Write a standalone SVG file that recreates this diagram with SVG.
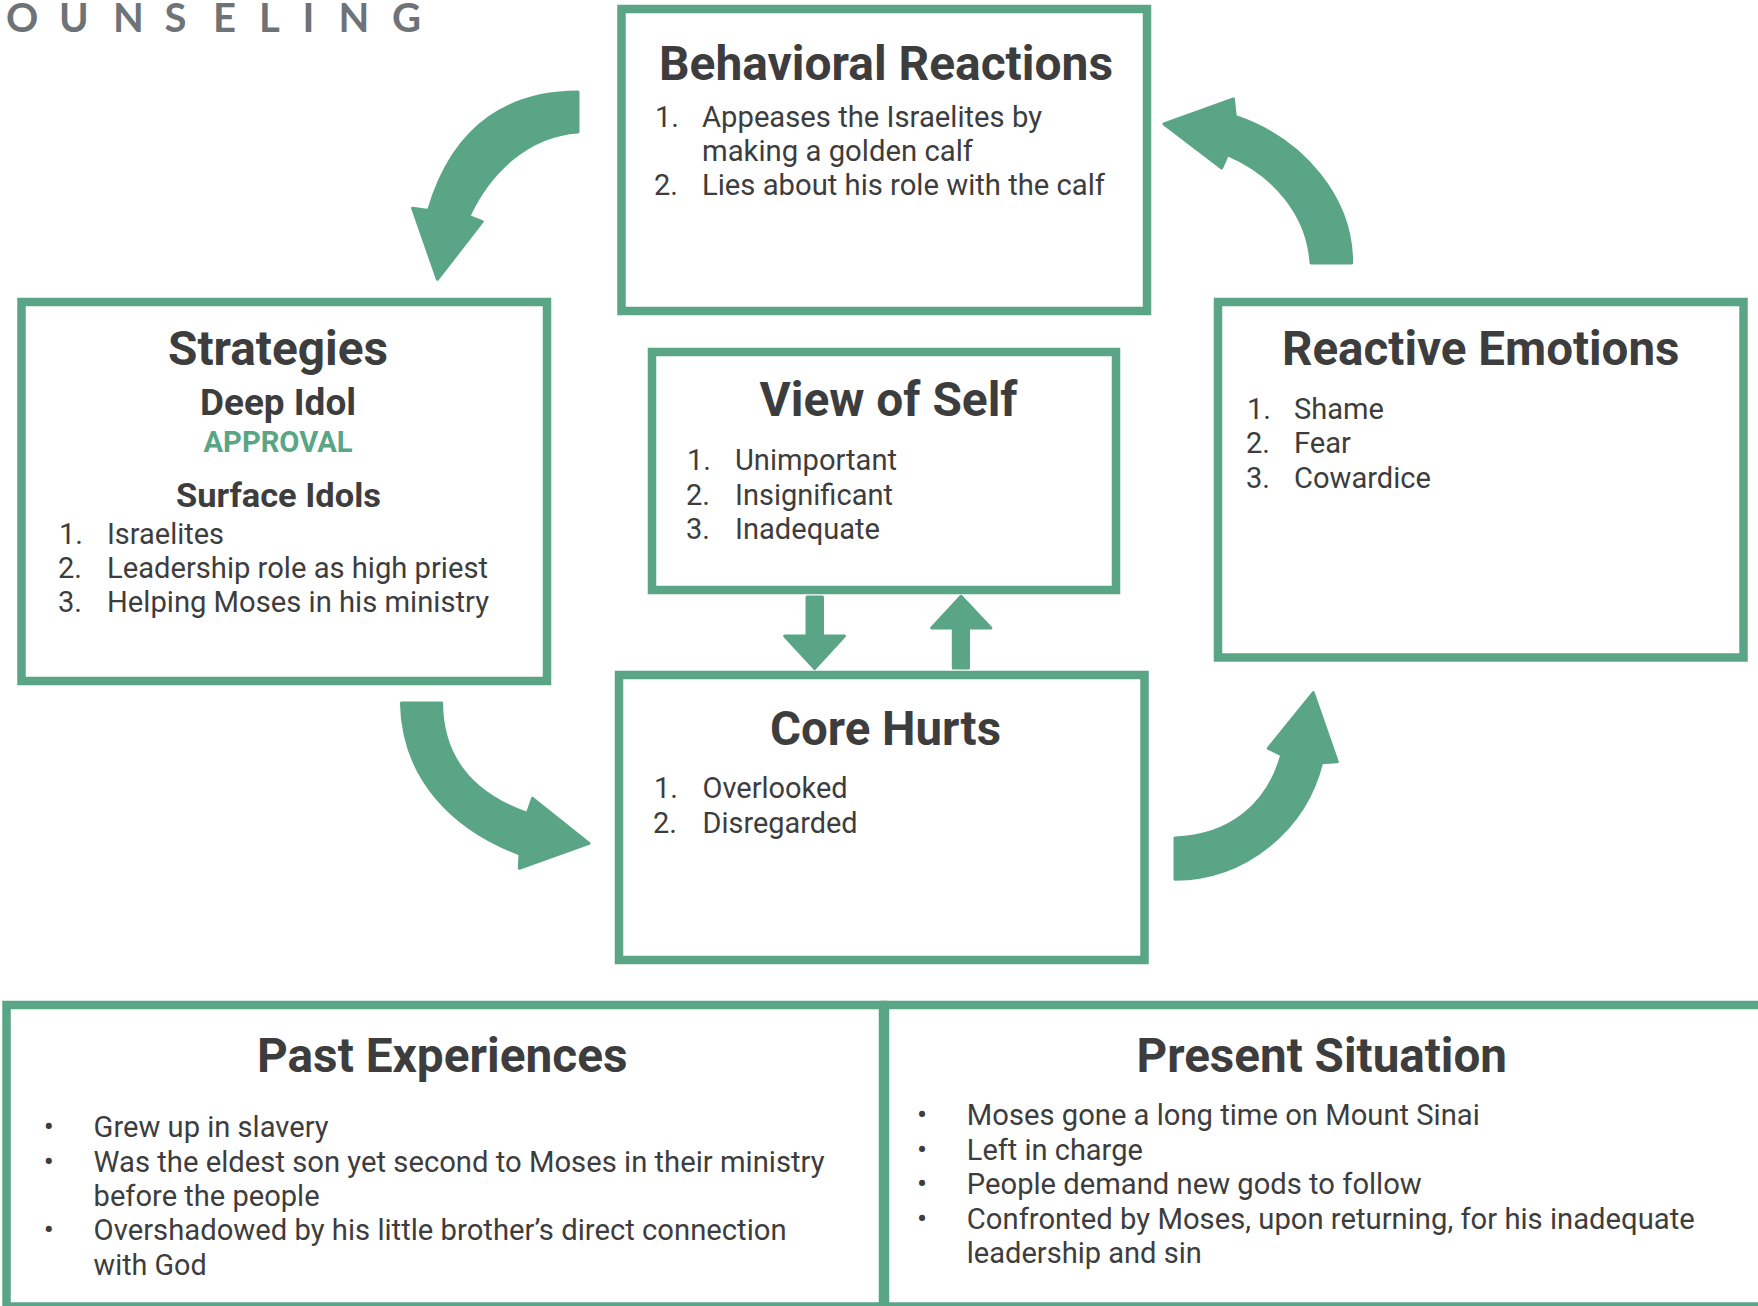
<svg xmlns="http://www.w3.org/2000/svg" width="1758" height="1306" viewBox="0 0 1758 1306">
  <style>
    .box { fill: #ffffff; stroke: #5aa586; stroke-width: 8.5; }
    .ttl { font-family: Roboto, "Liberation Sans", sans-serif; font-weight: 700; font-size: 48px; fill: #3d3d3d; }
    .sub { font-family: Roboto, "Liberation Sans", sans-serif; font-weight: 700; fill: #3d3d3d; }
    .txt { font-family: Roboto, "Liberation Sans", sans-serif; font-weight: 400; font-size: 29px; fill: #3d3d3d; }
    .bul { font-family: Roboto, "Liberation Sans", sans-serif; font-size: 30px; fill: #3d3d3d; text-anchor: middle; }
    .arrow { fill: #5aa586; stroke: #5aa586; stroke-width: 3; stroke-linejoin: round; }
    .head { font-family: Lato, "Open Sans", sans-serif; font-weight: 700; font-size: 40px; fill: #6e7377; }
  </style>
  <rect width="1758" height="1306" fill="#ffffff"/>

  <!-- page header, cut at the left edge -->
  <text class="head" x="6 59 113 164.5 213 259 302.5 338.5 392" y="31.5">OUNSELING</text>

  <!-- cycle and link arrows -->
  <g id="connectors">
    <!-- Behavioral Reactions -> Strategies -->
    <path class="arrow" d="M578,92 C515,92 455,120 428.6,210.5 L412.6,208.3 L437.4,279.3 L482.2,221.7 L468.8,216.5 C490,170 530,135 578,132 Z"/>
    <!-- Strategies -> Core Hurts -->
    <path class="arrow" d="M401.4,703 L441.6,703 C442,760 475,795 527.3,813.5 L532.6,798.3 L589,843.3 L519.3,868.3 L520,854 C455,830 403,780 401.4,703 Z"/>
    <!-- Core Hurts -> Reactive Emotions -->
    <path class="arrow" d="M1175,838 C1230,836 1268,805 1281.7,755 L1268.3,748.3 L1313.3,692.7 L1337.3,761.7 L1321.7,762.7 C1305,830 1245,879 1175,879.3 Z"/>
    <!-- Reactive Emotions -> Behavioral Reactions -->
    <path class="arrow" d="M1164,124 L1233.4,99 L1235.3,116.4 C1305,140 1352,200 1351.6,263 L1311,263 C1308,215 1275,175 1227.5,154.6 L1221.7,168 Z"/>
    <!-- View of Self -> Core Hurts -->
    <path class="arrow" d="M807,597 L822.5,597 L822.5,636 L844.5,636 L814.6,668.6 L784.6,636 L807,636 Z" stroke-width="0"/>
    <!-- Core Hurts -> View of Self -->
    <path class="arrow" d="M953.3,668 L968.5,668 L968.5,628 L990.9,628 L961,596.3 L931.6,628 L953.3,628 Z" stroke-width="0"/>
  </g>

  <g id="behavioral-reactions">
    <rect class="box" x="621.5" y="9" width="525.5" height="302"/>
    <text class="ttl" x="659" y="80" textLength="454" lengthAdjust="spacingAndGlyphs">Behavioral Reactions</text>
    <text class="txt" x="655" y="127">1.</text>
    <text class="txt" x="702" y="127" textLength="340" lengthAdjust="spacingAndGlyphs">Appeases the Israelites by</text>
    <text class="txt" x="702" y="161" textLength="271" lengthAdjust="spacingAndGlyphs">making a golden calf</text>
    <text class="txt" x="654" y="195">2.</text>
    <text class="txt" x="702" y="195" textLength="403" lengthAdjust="spacingAndGlyphs">Lies about his role with the calf</text>
  </g>

  <g id="strategies">
    <rect class="box" x="21.5" y="302" width="525.5" height="379"/>
    <text class="ttl" x="168" y="365" textLength="220" lengthAdjust="spacingAndGlyphs">Strategies</text>
    <text class="sub" x="200" y="415" font-size="37" textLength="156" lengthAdjust="spacingAndGlyphs">Deep Idol</text>
    <text class="sub" x="203.5" y="452" font-size="29" style="fill:#5aa586" textLength="149" lengthAdjust="spacingAndGlyphs">APPROVAL</text>
    <text class="sub" x="176" y="507" font-size="33" textLength="205" lengthAdjust="spacingAndGlyphs">Surface Idols</text>
    <text class="txt" x="59" y="544">1.</text>
    <text class="txt" x="107" y="544" textLength="117" lengthAdjust="spacingAndGlyphs">Israelites</text>
    <text class="txt" x="58" y="578">2.</text>
    <text class="txt" x="107" y="578" textLength="381" lengthAdjust="spacingAndGlyphs">Leadership role as high priest</text>
    <text class="txt" x="58" y="612">3.</text>
    <text class="txt" x="107" y="612" textLength="382" lengthAdjust="spacingAndGlyphs">Helping Moses in his ministry</text>
  </g>

  <g id="reactive-emotions">
    <rect class="box" x="1218" y="302" width="525.5" height="355.5"/>
    <text class="ttl" x="1282" y="365" textLength="397.5" lengthAdjust="spacingAndGlyphs">Reactive Emotions</text>
    <text class="txt" x="1247" y="419">1.</text>
    <text class="txt" x="1294" y="419" textLength="90" lengthAdjust="spacingAndGlyphs">Shame</text>
    <text class="txt" x="1246" y="453">2.</text>
    <text class="txt" x="1294" y="453" textLength="57" lengthAdjust="spacingAndGlyphs">Fear</text>
    <text class="txt" x="1246" y="488">3.</text>
    <text class="txt" x="1294" y="488" textLength="137" lengthAdjust="spacingAndGlyphs">Cowardice</text>
  </g>

  <g id="view-of-self">
    <rect class="box" x="652" y="352" width="464" height="238"/>
    <text class="ttl" x="759.5" y="416" textLength="258" lengthAdjust="spacingAndGlyphs">View of Self</text>
    <text class="txt" x="687" y="470">1.</text>
    <text class="txt" x="735" y="470" textLength="162" lengthAdjust="spacingAndGlyphs">Unimportant</text>
    <text class="txt" x="686" y="504.5">2.</text>
    <text class="txt" x="735" y="504.5" textLength="158" lengthAdjust="spacingAndGlyphs">Insignificant</text>
    <text class="txt" x="686" y="539">3.</text>
    <text class="txt" x="735" y="539" textLength="145" lengthAdjust="spacingAndGlyphs">Inadequate</text>
  </g>

  <g id="core-hurts">
    <rect class="box" x="619" y="675" width="525.5" height="285"/>
    <text class="ttl" x="770" y="745" textLength="231" lengthAdjust="spacingAndGlyphs">Core Hurts</text>
    <text class="txt" x="654" y="798">1.</text>
    <text class="txt" x="702.6" y="798" textLength="145" lengthAdjust="spacingAndGlyphs">Overlooked</text>
    <text class="txt" x="653" y="833">2.</text>
    <text class="txt" x="702.6" y="833" textLength="155" lengthAdjust="spacingAndGlyphs">Disregarded</text>
  </g>

  <g id="past-experiences">
    <rect class="box" x="6.5" y="1005" width="876.5" height="301.5"/>
    <text class="ttl" x="257" y="1072" textLength="370.5" lengthAdjust="spacingAndGlyphs">Past Experiences</text>
    <text class="bul" x="48.8" y="1137">•</text>
    <text class="txt" x="93.6" y="1137" textLength="235" lengthAdjust="spacingAndGlyphs">Grew up in slavery</text>
    <text class="bul" x="48.8" y="1172">•</text>
    <text class="txt" x="93.6" y="1172" textLength="731" lengthAdjust="spacingAndGlyphs">Was the eldest son yet second to Moses in their ministry</text>
    <text class="txt" x="93.6" y="1206" textLength="226" lengthAdjust="spacingAndGlyphs">before the people</text>
    <text class="bul" x="48.8" y="1240">•</text>
    <text class="txt" x="93.6" y="1240" textLength="693" lengthAdjust="spacingAndGlyphs">Overshadowed by his little brother’s direct connection</text>
    <text class="txt" x="93.6" y="1275" textLength="113" lengthAdjust="spacingAndGlyphs">with God</text>
  </g>

  <g id="present-situation">
    <rect class="box" x="885" y="1005" width="900" height="301.5"/>
    <text class="ttl" x="1136.5" y="1072" textLength="370.5" lengthAdjust="spacingAndGlyphs">Present Situation</text>
    <text class="bul" x="922" y="1125">•</text>
    <text class="txt" x="966.8" y="1125" textLength="513" lengthAdjust="spacingAndGlyphs">Moses gone a long time on Mount Sinai</text>
    <text class="bul" x="922" y="1160">•</text>
    <text class="txt" x="966.8" y="1160" textLength="176" lengthAdjust="spacingAndGlyphs">Left in charge</text>
    <text class="bul" x="922" y="1194">•</text>
    <text class="txt" x="966.8" y="1194" textLength="455" lengthAdjust="spacingAndGlyphs">People demand new gods to follow</text>
    <text class="bul" x="922" y="1229">•</text>
    <text class="txt" x="966.8" y="1229" textLength="728" lengthAdjust="spacingAndGlyphs">Confronted by Moses, upon returning, for his inadequate</text>
    <text class="txt" x="966.8" y="1263" textLength="235" lengthAdjust="spacingAndGlyphs">leadership and sin</text>
  </g>
</svg>
